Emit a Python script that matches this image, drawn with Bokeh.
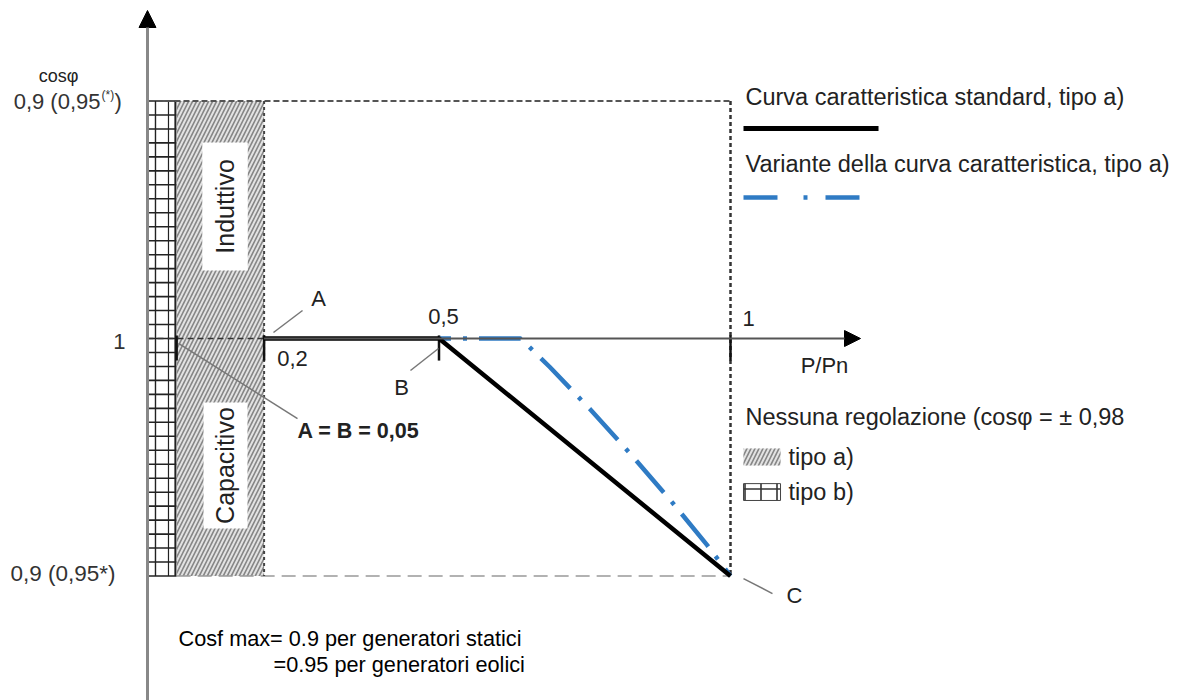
from math import pi
from bokeh.plotting import figure
from bokeh.models import Range1d, Arrow, NormalHead
from bokeh.core.properties import value
from bokeh.embed import file_html
from bokeh.resources import INLINE

# ---------------- data ----------------
# x: P/Pn ; q: deviation of cos(phi) from 1 (positive = inductive, negative = capacitive)
std_x = [0.2, 0.5, 1.0]
std_q = [0.0, 0.0, -0.1]

var_x = [0.5, 0.64, 0.69, 0.76, 0.83, 0.90, 0.96, 1.0]
var_q = [0.0, 0.0, -0.012, -0.030, -0.049, -0.069, -0.087, -0.1]

tick_x = [0.05, 0.2, 0.5, 1.0]
x_tick_labels = ["0,2", "0,5", "1"]
region_b = [0.0, 0.05]      # tipo b (grid)
region_a = [0.05, 0.2]      # tipo a (hatched)
q_limits = [-0.1, 0.1]      # 0,9 capacitive / 0,9 inductive

legend_texts = ["Curva caratteristica standard, tipo a)",
                "Variante della curva caratteristica, tipo a)",
                "Nessuna regolazione (cos\u03c6 = \u00b1 0,98",
                "tipo a)", "tipo b)"]
note_lines = ["Cosf max= 0.9 per generatori statici",
              "=0.95 per generatori eolici"]

FONT = value("Liberation Sans")
TXT = "#222222"

p = figure(width=1183, height=700,
           x_range=Range1d(-0.25214, 1.77702),
           y_range=Range1d(-0.152421, 0.142316),
           x_axis_type=None, y_axis_type=None,
           output_backend="svg", toolbar_location=None, min_border=0)
p.outline_line_color = None
p.grid.visible = False

# ---- regions ----
p.quad(left=[region_b[0]], right=[region_b[1]], bottom=[q_limits[0]], top=[q_limits[1]],
       fill_color="white", line_color=None)
# grid texture of the "tipo b" band
n_rows = 35
row_q = [q_limits[0] + i * (q_limits[1] - q_limits[0]) / (n_rows - 1) for i in range(n_rows)]
p.segment(x0=[region_b[0]] * n_rows, y0=row_q, x1=[region_b[1]] * n_rows, y1=row_q,
          line_color="#222222", line_width=1.6)
col_x = [0.0137, 0.036, region_b[1] - 0.002]
p.segment(x0=col_x, y0=[q_limits[0]] * 3, x1=col_x, y1=[q_limits[1]] * 3,
          line_color="#222222", line_width=[1.4, 1.2, 2.2])

p.quad(left=[region_a[0]], right=[region_a[1]], bottom=[q_limits[0]], top=[q_limits[1]],
       fill_color="#e2e2e2", line_color=None,
       hatch_pattern="/", hatch_color="#858585", hatch_scale=8, hatch_weight=1.6)
# white label boxes
p.quad(left=[0.094, 0.0961], right=[0.172, 0.1715], bottom=[0.0286, -0.08], top=[0.0825, -0.0269],
       fill_color="white", line_color=None)
p.text(x=[0.1329, 0.1329], y=[0.0556, -0.0535], text=["Induttivo", "Capacitivo"],
       angle=pi / 2, text_align="center", text_baseline="middle",
       text_font=FONT, text_font_size="25px", text_color=TXT)

# ---- dashed frame ----
p.line([region_b[0], 1.0], [q_limits[1], q_limits[1]], line_color="#555555", line_width=2, line_dash="6 3")
p.line([1.0, 1.0], [q_limits[1], q_limits[0]], line_color="#333333", line_width=2.5, line_dash="4 3")
p.line([region_a[0], 1.0], [q_limits[0], q_limits[0]], line_color="#999999", line_width=1.5, line_dash="14 7")
p.line([region_a[1], region_a[1]], [q_limits[1], q_limits[0]], line_color="#444444", line_width=2, line_dash="3 3")
p.line([region_b[0], region_a[1]], [0, 0], line_color="#333333", line_width=1.5, line_dash="6 4")

# ---- axes ----
p.add_layout(Arrow(end=NormalHead(size=17, fill_color="black", line_color="black"),
                   x_start=0, y_start=-0.16, x_end=0, y_end=0.1381,
                   line_color="#888888", line_width=3))
p.add_layout(Arrow(end=NormalHead(size=16, fill_color="black", line_color="black"),
                   x_start=region_a[1], y_start=0, x_end=1.223, y_end=0,
                   line_color="#555555", line_width=2))

# ---- ticks ----
p.segment(x0=tick_x, y0=[0.0013] * 4, x1=tick_x, y1=[-0.0093] * 4,
          line_color="#111111", line_width=2.5)

# ---- curves ----
p.line(var_x, var_q, line_color="#2f7bc4", line_width=4.5,
       line_dash="42 12 4 12", line_dash_offset=30)
p.line(std_x, std_q, line_color="black", line_width=4.5, line_join="miter")

# ---- leader lines ----
p.segment(x0=[0.2161, 0.4511, 0.0532, 1.0223], y0=[0.00253, -0.01347, -0.0021, -0.1011],
          x1=[0.2659, 0.4991, 0.2573, 1.072], y1=[0.01179, -0.00421, -0.0337, -0.1074],
          line_color="#777777", line_width=1.5)

# ---- axis / point labels ----
p.text(x=[0.2487, 0.5077, 1.0309], y=[-0.00842, 0.00926, 0.00842], text=x_tick_labels,
       text_align="center", text_baseline="middle",
       text_font=FONT, text_font_size="22px", text_color=TXT)
p.text(x=[0.2933, 0.4357, 1.1098, 1.1612], y=[0.01684, -0.02063, -0.1082, -0.01137],
       text=["A", "B", "C", "P/Pn"], text_align="center", text_baseline="middle",
       text_font=FONT, text_font_size="22px", text_color=TXT)
p.text(x=[0.2573], y=[-0.03874], text=["A = B = 0,05"], text_align="left", text_baseline="middle",
       text_font=FONT, text_font_size="21.5px", text_font_style="bold", text_color=TXT)

p.text(x=[-0.1527], y=[0.1107], text=["cos\u03c6"], text_align="center", text_baseline="middle",
       text_font=FONT, text_font_size="18px", text_color=TXT)
p.text(x=[-0.0806], y=[0.0998], text=["0,9 (0,95"], text_align="right", text_baseline="middle",
       text_font=FONT, text_font_size="22px", text_color="#333333")
p.text(x=[-0.0789], y=[0.1025], text=["(*)"], text_align="left", text_baseline="middle",
       text_font=FONT, text_font_size="12px", text_color="#333333")
p.text(x=[-0.0566], y=[0.0998], text=[")"], text_align="left", text_baseline="middle",
       text_font=FONT, text_font_size="22px", text_color="#333333")
p.text(x=[-0.0377], y=[-0.0013], text=["1"], text_align="right", text_baseline="middle",
       text_font=FONT, text_font_size="22px", text_color="#333333")
p.text(x=[-0.235], y=[-0.0989], text=["0,9 (0,95*)"], text_align="left", text_baseline="middle",
       text_font=FONT, text_font_size="22.5px", text_color="#333333")

# ---- legend ----
p.text(x=[1.0257, 1.0257, 1.0257, 1.0995, 1.0995],
       y=[0.1015, 0.0733, -0.03326, -0.0497, -0.0648], text=legend_texts,
       text_align="left", text_baseline="middle",
       text_font=FONT, text_font_size="23.5px", text_color=TXT)
p.line([1.0223, 1.2539], [0.0884, 0.0884], line_color="black", line_width=5)
p.line([1.0223, 1.2401], [0.0594, 0.0594], line_color="#2f7bc4", line_width=4.5,
       line_dash="34 26 4 18")
p.quad(left=[1.0223], right=[1.0858], bottom=[-0.0535], top=[-0.0463],
       fill_color="#e2e2e2", line_color=None,
       hatch_pattern="/", hatch_color="#858585", hatch_scale=8, hatch_weight=1.6)
p.quad(left=[1.0223], right=[1.0858], bottom=[-0.0682], top=[-0.0611],
       fill_color="white", line_color="#444444", line_width=1,
       hatch_pattern="+", hatch_color="#333333", hatch_scale=16, hatch_weight=1.6)

# ---- note ----
p.text(x=[0.0532, 0.2161], y=[-0.1263, -0.1373], text=note_lines,
       text_align="left", text_baseline="middle",
       text_font=FONT, text_font_size="21.7px", text_color="black")

open("out.html", "w").write(file_html(p, INLINE))
